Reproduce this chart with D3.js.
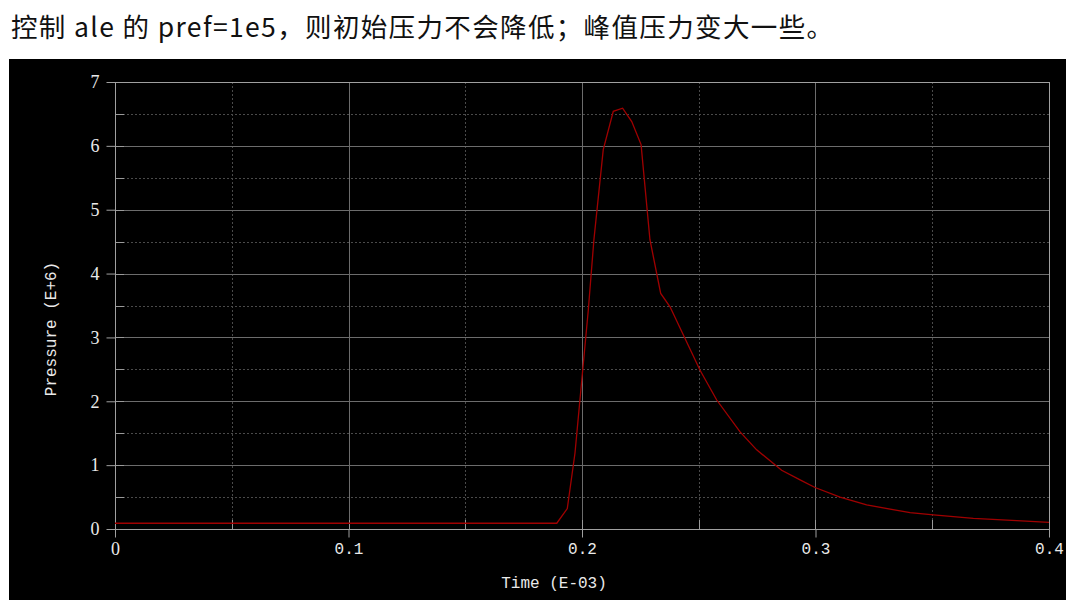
<!DOCTYPE html>
<html>
<head>
<meta charset="utf-8">
<script src="https://cdn.jsdelivr.net/npm/d3@7"></script>
<style>
  html, body { margin: 0; padding: 0; background: #fff; }
  svg { display: block; }
</style>
</head>
<body>
<svg id="chart" width="1080" height="600"></svg>
<script>
// ---- data (time in E-03, pressure in E+6) ----
const timeValues = [0, 0.1892, 0.1937, 0.197, 0.2027, 0.2051, 0.2091, 0.2134, 0.2174, 0.2213, 0.2253, 0.2291, 0.2337, 0.2377, 0.2505, 0.2577, 0.2677, 0.2748, 0.2855, 0.2934, 0.2998, 0.3105, 0.3219, 0.3405, 0.3505, 0.3676, 0.3862, 0.4];
const pressureValues = [0.09, 0.09, 0.32, 1.19, 3.43, 4.53, 5.94, 6.54, 6.59, 6.38, 6.02, 4.53, 3.69, 3.48, 2.49, 2.02, 1.52, 1.24, 0.92, 0.77, 0.65, 0.50, 0.376, 0.256, 0.22, 0.167, 0.13, 0.105];
const xTickValues = [0, 0.1, 0.2, 0.3, 0.4];
const xMinorValues = [0.05, 0.15, 0.25, 0.35];
const yTickValues = [0, 1, 2, 3, 4, 5, 6, 7];
const yMinorValues = [0.5, 1.5, 2.5, 3.5, 4.5, 5.5, 6.5];
const titleText = "控制 ale 的 pref=1e5，则初始压力不会降低；峰值压力变大一些。";
const xTitle = "Time (E-03)";
const yTitle = "Pressure (E+6)";

const svg = d3.select("#chart");
const x = d3.scaleLinear().domain([0, 0.4]).range([115, 1049]);
const y = d3.scaleLinear().domain([0, 7]).range([529, 82]);

// title
svg.append("text")
  .attr("x", 11).attr("y", 25)
  .attr("dominant-baseline", "central")
  .attr("font-family", "'Noto Sans CJK SC', sans-serif")
  .attr("font-size", 26.5)
  .attr("textLength", 822)
  .attr("lengthAdjust", "spacing")
  .attr("fill", "#111")
  .text(titleText);

// black panel
svg.append("rect").attr("x", 9).attr("y", 59).attr("width", 1057).attr("height", 541).attr("fill", "#000");

const [x0, x1] = x.range();
const [y0, y1] = y.range();

// minor grid (dotted)
const minor = svg.append("g").attr("stroke", "#4a4a4a").attr("stroke-width", 1).attr("stroke-dasharray", "2,2");
minor.selectAll("line.v").data(xMinorValues).join("line").attr("class", "v")
  .attr("x1", d => Math.round(x(d)) + 0.5).attr("x2", d => Math.round(x(d)) + 0.5)
  .attr("y1", y1).attr("y2", y0);
minor.selectAll("line.h").data(yMinorValues).join("line").attr("class", "h")
  .attr("y1", d => Math.round(y(d)) + 0.5).attr("y2", d => Math.round(y(d)) + 0.5)
  .attr("x1", x0).attr("x2", x1);

// major grid (solid)
const major = svg.append("g").attr("stroke", "#6c6c6c").attr("stroke-width", 1);
major.selectAll("line.v").data(xTickValues.slice(1, -1)).join("line").attr("class", "v")
  .attr("x1", d => Math.round(x(d)) + 0.5).attr("x2", d => Math.round(x(d)) + 0.5)
  .attr("y1", y1).attr("y2", y0);
major.selectAll("line.h").data(yTickValues.slice(1, -1)).join("line").attr("class", "h")
  .attr("y1", d => Math.round(y(d)) + 0.5).attr("y2", d => Math.round(y(d)) + 0.5)
  .attr("x1", x0).attr("x2", x1);

// inner tick marks (brighter)
const inner = svg.append("g").attr("stroke", "#9a9a9a").attr("stroke-width", 1);
inner.selectAll("line.y").data(yTickValues.concat(yMinorValues)).join("line").attr("class", "y")
  .attr("y1", d => Math.round(y(d)) + 0.5).attr("y2", d => Math.round(y(d)) + 0.5)
  .attr("x1", x0).attr("x2", x0 + 9);
inner.selectAll("line.x").data(xTickValues.concat(xMinorValues)).join("line").attr("class", "x")
  .attr("x1", d => Math.round(x(d)) + 0.5).attr("x2", d => Math.round(x(d)) + 0.5)
  .attr("y1", y0).attr("y2", y0 - 9);

// axes via d3
const tickColor = "#eaeaea";
const yAxis = svg.append("g").attr("transform", `translate(${x0 + 0.5},0)`)
  .call(d3.axisLeft(y).tickValues(yTickValues).tickSize(9).tickPadding(7).tickFormat(d3.format("d")));
yAxis.selectAll("text").attr("font-family", "'Liberation Serif', serif").attr("font-size", 18).attr("fill", tickColor);

const xAxis = svg.append("g").attr("transform", `translate(0,${y0 + 0.5})`)
  .call(d3.axisBottom(x).tickValues(xTickValues).tickSize(8).tickPadding(5).tickFormat(d => d === 0 ? "0" : d3.format(".1f")(d)));
xAxis.selectAll("text").attr("font-family", "'Liberation Mono', monospace").attr("font-size", 16).attr("fill", tickColor);
xAxis.selectAll("text").filter(d => d === 0).attr("font-family", "'Liberation Serif', serif").attr("font-size", 18);

[yAxis, xAxis].forEach(a => {
  a.select(".domain").remove();
  a.selectAll(".tick line").attr("stroke", "#a0a0a0");
});

// frame
const frame = svg.append("g").attr("stroke", "#a0a0a0").attr("stroke-width", 1).attr("fill", "none");
frame.append("rect").attr("x", x0 + 0.5).attr("y", y1 + 0.5).attr("width", x1 - x0).attr("height", y0 - y1);

// curve
svg.append("path")
  .datum(timeValues.map((t, i) => [t, pressureValues[i]]))
  .attr("fill", "none")
  .attr("stroke", "#a00000")
  .attr("stroke-width", 1.3)
  .attr("d", d3.line().x(d => x(d[0])).y(d => y(d[1])));

// axis titles
svg.append("text")
  .attr("x", 554).attr("y", 588)
  .attr("text-anchor", "middle")
  .attr("font-family", "'Liberation Mono', monospace")
  .attr("font-size", 16)
  .attr("fill", tickColor)
  .text(xTitle);

svg.append("text")
  .attr("transform", "translate(56,329) rotate(-90)")
  .attr("text-anchor", "middle")
  .attr("font-family", "'Liberation Mono', monospace")
  .attr("font-size", 16)
  .attr("fill", tickColor)
  .text(yTitle);
</script>
</body>
</html>
